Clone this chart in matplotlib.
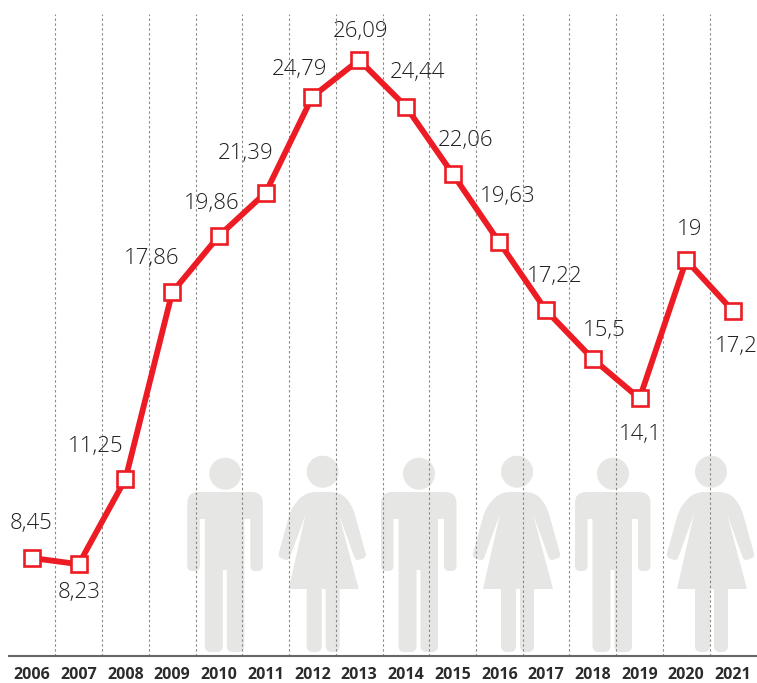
import matplotlib
matplotlib.use('Agg')
import matplotlib.pyplot as plt
from matplotlib.path import Path
from matplotlib.patches import PathPatch, Circle

years = [2006, 2007, 2008, 2009, 2010, 2011, 2012, 2013, 2014, 2015, 2016, 2017, 2018, 2019, 2020, 2021]
values = [8.45, 8.23, 11.25, 17.86, 19.86, 21.39, 24.79, 26.09, 24.44, 22.06, 19.63, 17.22, 15.5, 14.1, 19, 17.2]
labels = ['8,45', '8,23', '11,25', '17,86', '19,86', '21,39', '24,79', '26,09', '24,44', '22,06', '19,63',
          '17,22', '15,5', '14,1', '19', '17,2']
# label offset from its point, in pixels (y up)
label_offsets = [(-1, 35), (0, -28), (-30, 32), (-21, 34), (-7, 32), (-20, 39), (-13, 27), (1, 28), (12, 34),
                 (13, 33), (8, 46), (9, 34), (11, 28), (1, -36), (3, 31), (3, -36)]

RED = '#ed1c24'
GREY = '#e6e6e5'
W, H = 757, 683
LEFT, RIGHT, TOP, BOTTOM = 9, 757, 14, 656

# figure outlines in pixels: (x from figure centre, y, corner radius)
man = [(-38, 492, 11), (-38, 571, 5), (-25.5, 571, 5), (-25.5, 519, 0), (-20.5, 519, 0), (-20.5, 652, 6),
       (-2.5, 652, 6), (-2.5, 570, 0), (1.5, 570, 0), (1.5, 652, 6), (19, 652, 6), (19, 519, 0), (25, 519, 0),
       (25, 571, 5), (37.5, 571, 5), (37.5, 492, 11)]
woman = [(-16, 492, 9), (-31, 506, 12), (-45, 557, 4), (-34, 561, 4), (-17, 514, 0), (-34, 589, 0), (-16, 589, 0),
         (-16, 652, 6), (-1, 652, 6), (-1, 589, 0), (3, 589, 0), (3, 652, 6), (17, 652, 6), (17, 589, 0),
         (36, 589, 0), (16, 514, 0), (33, 561, 4), (44, 557, 4), (29, 503, 12), (17, 492, 9)]
figures = [(225.3, 473.7, man), (322.7, 471.7, woman), (419, 473.7, man), (517, 471.7, woman), (613, 473.7, man),
           (711, 471.7, woman)]


def rounded_path(points, cx):
    verts, codes = [], []
    n = len(points)
    for i, (x, y, r) in enumerate(points):
        x += cx
        px, py = points[i - 1][0] + cx, points[i - 1][1]
        nx, ny = points[(i + 1) % n][0] + cx, points[(i + 1) % n][1]
        d1 = ((px - x) ** 2 + (py - y) ** 2) ** 0.5
        d2 = ((nx - x) ** 2 + (ny - y) ** 2) ** 0.5
        a = (x + (px - x) * r / d1, y + (py - y) * r / d1)
        b = (x + (nx - x) * r / d2, y + (ny - y) * r / d2)
        verts += [a, (x, y), b]
        codes += [Path.MOVETO if i == 0 else Path.LINETO, Path.CURVE3, Path.CURVE3]
    verts.append(verts[0])
    codes.append(Path.CLOSEPOLY)
    return Path(verts, codes)


fig = plt.figure(figsize=(W / 100, H / 100), dpi=100)

# background figures
bg = fig.add_axes([0, 0, 1, 1])
bg.set_xlim(0, W)
bg.set_ylim(H, 0)
bg.axis('off')
for cx, cy, shape in figures:
    bg.add_patch(Circle((cx, cy), 16, fc=GREY, ec='none'))
    bg.add_patch(PathPatch(rounded_path(shape, cx), fc=GREY, ec='none'))

ax = fig.add_axes([LEFT / W, (H - BOTTOM) / H, (RIGHT - LEFT) / W, (BOTTOM - TOP) / H])
ax.patch.set_visible(False)
step = (733 - 32) / 15
ax.set_xlim(2006 + (LEFT - 32) / step, 2006 + (RIGHT - 32) / step)
scale = (558 - 60) / (26.09 - 8.45)
ax.set_ylim(8.45 - (BOTTOM - 558) / scale, 8.45 + (558 - TOP) / scale)

for y in years[:-1]:
    ax.axvline(y + 0.5, color='#8a8a85', lw=0.8, dashes=(2.2, 2.2), zorder=1)

ax.plot(years, values, color=RED, lw=4.2, marker='s', ms=11.5, mfc='white', mec=RED, mew=1.9,
        solid_joinstyle='miter', zorder=3)

for x, v, lab, off in zip(years, values, labels, label_offsets):
    ax.annotate(lab, (x, v), xytext=(off[0] * 0.72, off[1] * 0.72), textcoords='offset points', ha='center',
                va='center', fontsize=16, color='#1f1f1f', family='Open Sans', fontweight='light', zorder=4)

ax.set_xticks(years)
ax.set_xticklabels(years, fontsize=11.5, fontweight='bold', family='Open Sans', color='#2b2b2b')
ax.tick_params(axis='x', length=0, pad=8)
ax.set_yticks([])
for side in ['top', 'left', 'right']:
    ax.spines[side].set_visible(False)
ax.spines['bottom'].set_color('#666666')
ax.spines['bottom'].set_linewidth(1.5)

fig.savefig('out.png', dpi=100)
